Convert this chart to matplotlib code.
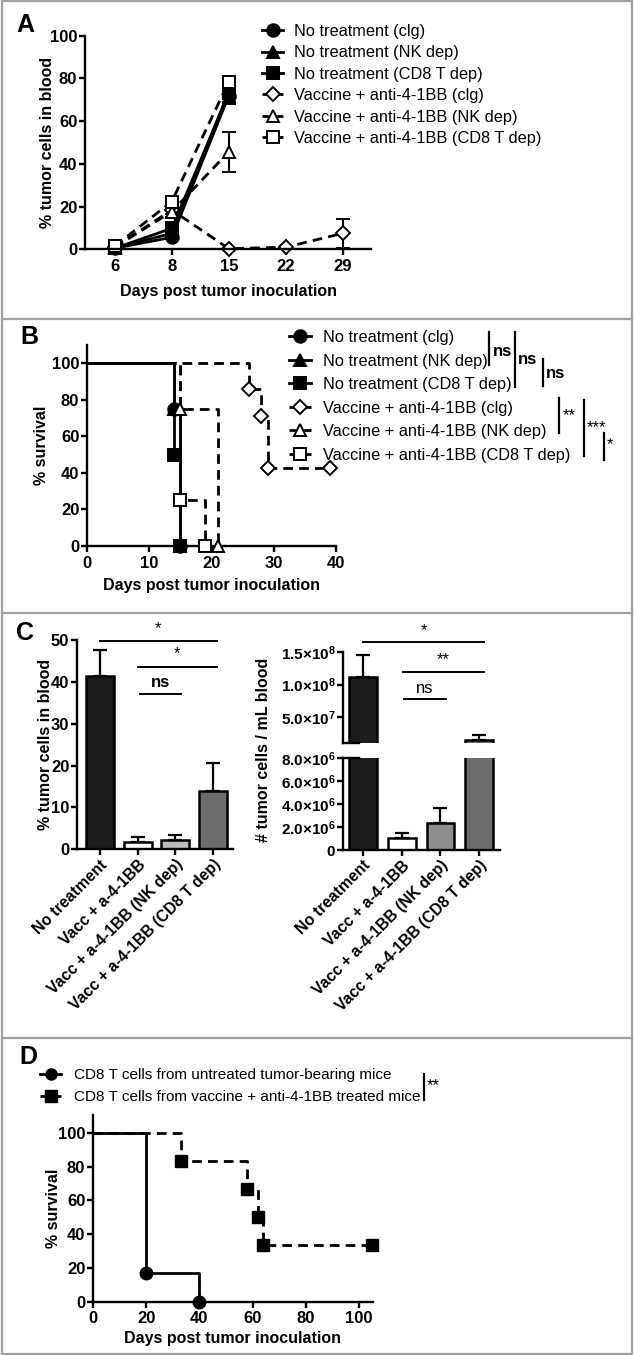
import numpy as np
import matplotlib.pyplot as plt
from matplotlib.lines import Line2D

plt.rcParams['font.family'] = ['Liberation Sans', 'DejaVu Sans']
plt.rcParams['mathtext.fontset'] = 'custom'
plt.rcParams['mathtext.rm'] = 'Liberation Sans'
plt.rcParams['mathtext.bf'] = 'Liberation Sans:bold'

W, H = 634, 1355

# ---- panel A: % tumor cells in blood over time
days_a = ["6", "8", "15", "22", "29"]
a_names = ["No treatment (clg)", "No treatment (NK dep)", "No treatment (CD8 T dep)",
           "Vaccine + anti-4-1BB (clg)", "Vaccine + anti-4-1BB (NK dep)",
           "Vaccine + anti-4-1BB (CD8 T dep)"]
a_nt_clg = [0.5, 5.6, 72.0]
a_nt_clg_err = [0.2, 1.0, 3.0]
a_nt_nk = [0.5, 7.5, 74.0]
a_nt_nk_err = [0.2, 1.2, 3.0]
a_nt_cd8 = [0.5, 9.8, 73.0]
a_nt_cd8_err = [0.2, 1.5, 5.0]
a_vac_clg = [1.0, 18.4, 0.3, 1.0, 7.5]
a_vac_clg_err = [0.5, 2.0, 0.3, 0.5, 6.8]
a_vac_nk = [1.0, 17.6, 45.7]
a_vac_nk_err = [0.5, 2.5, 9.3]
a_vac_cd8 = [1.5, 22.3, 78.5]
a_vac_cd8_err = [0.5, 2.5, 2.0]

# ---- panel B: survival
b_nt_clg_t = [0, 14, 15]
b_nt_clg_s = [100, 75, 0]
b_nt_nk_t = [0, 14, 15]
b_nt_nk_s = [100, 75, 0]
b_nt_cd8_t = [0, 14, 15]
b_nt_cd8_s = [100, 50, 0]
b_vac_clg_t = [0, 26, 28, 29, 39]
b_vac_clg_s = [100, 85.7, 71.4, 42.9, 42.9]
b_vac_nk_t = [0, 15, 21]
b_vac_nk_s = [100, 75, 0]
b_vac_cd8_t = [0, 15, 19]
b_vac_cd8_s = [100, 25, 0]

# ---- panel C
c_groups = ["No treatment", "Vacc + a-4-1BB", "Vacc + a-4-1BB (NK dep)",
            "Vacc + a-4-1BB (CD8 T dep)"]
c_pct = [41.4, 1.8, 2.2, 13.9]
c_pct_err = [6.2, 1.1, 1.2, 6.6]
c_num = [1.12e8, 1.02e6, 2.37e6, 1.45e7]
c_num_err = [0.33e8, 0.43e6, 1.31e6, 0.75e7]
c_left_colors = ['#1c1c1c', 'white', '#bcbcbc', '#6c6c6c']
c_right_colors = ['#1c1c1c', 'white', '#8e8e8e', '#6c6c6c']

# ---- panel D
d_untr_t = [0, 20, 40]
d_untr_s = [100, 16.7, 0]
d_trt_t = [0, 33, 58, 62, 64, 105]
d_trt_s = [100, 83.3, 66.7, 50, 33.3, 33.3]

fig = plt.figure(figsize=(W / 100, H / 100), dpi=100)


def px_axes(l, t, r, b):
    return fig.add_axes([l / W, 1 - b / H, (r - l) / W, (b - t) / H])


def style(ax, size=12, xpad=1.5):
    for s in ['top', 'right']:
        ax.spines[s].set_visible(False)
    for s in ['left', 'bottom']:
        ax.spines[s].set_linewidth(1.7)
    ax.tick_params(width=1.7, length=4, labelsize=size, pad=1.5)
    ax.tick_params(axis='x', pad=xpad)
    for lab in ax.get_xticklabels() + ax.get_yticklabels():
        lab.set_fontweight('bold')


bold = dict(fontweight='bold')
DASH = (3.5, 2.2)

# ================= A
axA = px_axes(85, 35.7, 371, 249.3)
xa = np.arange(len(days_a))
series_a = [
    (a_nt_clg, a_nt_clg_err, 'o', '-', 'black'),
    (a_nt_nk, a_nt_nk_err, '^', '-', 'black'),
    (a_nt_cd8, a_nt_cd8_err, 's', '-', 'black'),
    (a_vac_clg, a_vac_clg_err, 'D', '--', 'white'),
    (a_vac_nk, a_vac_nk_err, '^', '--', 'white'),
    (a_vac_cd8, a_vac_cd8_err, 's', '--', 'white'),
]
handles_a = []
for (vals, err, m, ls, fc), name in zip(series_a, a_names):
    n = len(vals)
    ms = 7 if m == 'D' else 9
    axA.errorbar(xa[:n], vals, yerr=err, color='black', ls=ls, lw=2,
                 marker=m, ms=ms, mfc=fc, mec='black', mew=1.4,
                 capsize=5, elinewidth=1.5, capthick=1.5, clip_on=False,
                 dashes=DASH if ls == '--' else (None, None))
    handles_a.append(Line2D([], [], color='black', ls=ls, lw=2, marker=m,
                            ms=ms, mfc=fc, mec='black', mew=1.4, label=name))
axA.set_xlim(-0.52, 4.49)
axA.set_ylim(0, 100)
axA.set_xticks(xa)
axA.set_xticklabels(days_a)
axA.set_yticks([0, 20, 40, 60, 80, 100])
axA.set_xlabel("Days post tumor inoculation", fontsize=11.5, labelpad=7, **bold)
axA.set_ylabel("% tumor cells in blood", fontsize=11.5, labelpad=-4, **bold)
style(axA, xpad=3)
fig.legend(handles=handles_a, loc='upper left',
           bbox_to_anchor=(262 / W, 1 - 24 / H), frameon=False,
           fontsize=11.8, handlelength=1.3, handletextpad=0.68,
           labelspacing=0.39, borderpad=0, borderaxespad=0)

# ================= B
axB = px_axes(87, 345, 336, 546)
series_b = [
    (b_nt_clg_t, b_nt_clg_s, 'o', '-', 'black'),
    (b_nt_nk_t, b_nt_nk_s, '^', '-', 'black'),
    (b_nt_cd8_t, b_nt_cd8_s, 's', '-', 'black'),
    (b_vac_clg_t, b_vac_clg_s, 'D', '--', 'white'),
    (b_vac_nk_t, b_vac_nk_s, '^', '--', 'white'),
    (b_vac_cd8_t, b_vac_cd8_s, 's', '--', 'white'),
]
handles_b = []
for (t, s, m, ls, fc), name in zip(series_b, a_names):
    ms = 7 if m == 'D' else 9
    axB.step(t, s, where='post', color='black', ls=ls, lw=2, clip_on=False,
             dashes=DASH if ls == '--' else (None, None))
    axB.plot(t[1:], s[1:], ls='none', marker=m, ms=ms, mfc=fc, mec='black',
             mew=1.4, clip_on=False, zorder=4)
    handles_b.append(Line2D([], [], color='black', ls=ls, lw=2, marker=m,
                            ms=ms, mfc=fc, mec='black', mew=1.4, label=name))
axB.set_xlim(0, 40)
axB.set_ylim(0, 110)
axB.set_xticks([0, 10, 20, 30, 40])
axB.set_yticks([0, 20, 40, 60, 80, 100])
axB.set_xlabel("Days post tumor inoculation", fontsize=11.5, labelpad=5, **bold)
axB.set_ylabel("% survival", fontsize=11.5, labelpad=2, **bold)
style(axB, xpad=3)
fig.legend(handles=handles_b, loc='upper left',
           bbox_to_anchor=(289 / W, 1 - 330 / H), frameon=False,
           fontsize=11.8, handlelength=1.35, handletextpad=0.7,
           labelspacing=0.52, borderpad=0, borderaxespad=0)

# ================= C left
axC1 = px_axes(77, 640, 233, 849.3)
xc = np.arange(len(c_groups))
axC1.bar(xc, c_pct, width=0.74, color=c_left_colors, edgecolor='black', lw=1.8)
axC1.errorbar(xc, c_pct, yerr=[np.zeros(4), c_pct_err], fmt='none',
              ecolor='black', elinewidth=1.6, capsize=5, capthick=1.6)
axC1.set_xlim(-0.61, 3.53)
axC1.set_ylim(0, 50)
axC1.set_yticks([0, 10, 20, 30, 40, 50])
axC1.set_xticks(xc)
axC1.set_xticklabels(c_groups, rotation=45, ha='right', va='top',
                     rotation_mode='anchor')
axC1.set_ylabel("% tumor cells in blood", fontsize=11.5, labelpad=-1.5, **bold)
style(axC1)
for lab in axC1.get_xticklabels():
    lab.set_fontsize(11.3)
for x0, x1, y, txt, ty in [(0, 3.1, 49.8, '*', 51.0), (1.0, 3.1, 43.5, '*', 45.0),
                            (1.05, 2.15, 37.1, 'ns', 38.0)]:
    axC1.plot([x0, x1], [y, y], color='black', lw=1.4, clip_on=False)
    axC1.text((x0 + x1) / 2, ty, txt, ha='center', va='bottom', fontsize=12,
              fontweight='bold' if txt == 'ns' else 'normal')

# ================= C right (broken axis)
axU = px_axes(343, 652, 500, 743)
axL = px_axes(343, 758, 500, 850)
for ax in (axU, axL):
    ax.bar(xc, c_num, width=0.72, color=c_right_colors, edgecolor='black', lw=1.8)
    ax.errorbar(xc, c_num, yerr=[np.zeros(4), c_num_err], fmt='none',
                ecolor='black', elinewidth=1.6, capsize=5, capthick=1.6)
    ax.set_xlim(-0.52, 3.54)
axU.set_ylim(1e7, 1.5e8)
axL.set_ylim(0, 8e6)
axU.set_yticks([5e7, 1e8, 1.5e8])
axU.set_yticklabels([r'$\mathbf{5.0{\times}10^{7}}$', r'$\mathbf{1.0{\times}10^{8}}$',
                     r'$\mathbf{1.5{\times}10^{8}}$'])
axL.set_yticks([0, 2e6, 4e6, 6e6, 8e6])
axL.set_yticklabels(['0', r'$\mathbf{2.0{\times}10^{6}}$', r'$\mathbf{4.0{\times}10^{6}}$',
                     r'$\mathbf{6.0{\times}10^{6}}$', r'$\mathbf{8.0{\times}10^{6}}$'])
axU.set_xticks([])
style(axU, 11)
style(axL, 11)
axU.spines['bottom'].set_visible(False)
axL.set_xticks(xc)
axL.set_xticklabels(c_groups, rotation=45, ha='right', va='top',
                    rotation_mode='anchor')
for lab in axL.get_xticklabels():
    lab.set_fontsize(11.3)
    lab.set_fontweight('bold')
# break caps
axU.plot([0, 0.1], [0, 0], transform=axU.transAxes, color='black', lw=1.7, clip_on=False)
axL.plot([0, 0.1], [1, 1], transform=axL.transAxes, color='black', lw=1.7, clip_on=False)
fig.text(263 / W, 1 - 750 / H, "# tumor cells / mL blood", rotation=90,
         ha='center', va='center', fontsize=11.5, **bold)
for x0, x1, y, txt, ty in [(0, 3.13, 1.65e8, '*', 1.72e8), (1.03, 3.13, 1.2e8, '**', 1.26e8),
                            (1.05, 2.15, 7.7e7, 'ns', 8.2e7)]:
    axU.plot([x0, x1], [y, y], color='black', lw=1.4, clip_on=False)
    axU.text((x0 + x1) / 2, ty, txt, ha='center', va='bottom', fontsize=12)

# ================= D
axD = px_axes(93, 1115, 373, 1301.7)
axD.step(d_untr_t, d_untr_s, where='post', color='black', lw=2, clip_on=False)
axD.plot(d_untr_t[1:], d_untr_s[1:], ls='none', marker='o', ms=9, color='black',
         clip_on=False, zorder=4)
axD.step(d_trt_t, d_trt_s, where='post', color='black', ls='--', lw=2,
         dashes=DASH, clip_on=False)
axD.plot(d_trt_t[1:], d_trt_s[1:], ls='none', marker='s', ms=9, color='black',
         clip_on=False, zorder=4)
axD.set_xlim(0, 105.3)
axD.set_ylim(0, 110.5)
axD.set_xticks([0, 20, 40, 60, 80, 100])
axD.set_yticks([0, 20, 40, 60, 80, 100])
axD.set_xlabel("Days post tumor inoculation", fontsize=11.5, labelpad=4, **bold)
axD.set_ylabel("% survival", fontsize=11.5, labelpad=-2, **bold)
style(axD, xpad=2.5)
handles_d = [Line2D([], [], color='black', lw=2, marker='o', ms=8,
                    label="CD8 T cells from untreated tumor-bearing mice"),
             Line2D([], [], color='black', lw=2, ls='--', dashes=DASH, marker='s', ms=8,
                    label="CD8 T cells from vaccine + anti-4-1BB treated mice")]
fig.legend(handles=handles_d, loc='upper left',
           bbox_to_anchor=(40 / W, 1 - 1068 / H), frameon=False,
           fontsize=11, handlelength=1.4, handletextpad=0.8,
           labelspacing=0.55, borderpad=0, borderaxespad=0)

# ================= overlay: frames, panel letters, brackets
ov = fig.add_axes([0, 0, 1, 1])
ov.set_xlim(0, W)
ov.set_ylim(H, 0)
ov.axis('off')
gray = '#a0a0a0'
ov.plot([2, 632, 632, 2, 2], [1, 1, 1354, 1354, 1], color=gray, lw=1.6)
for yy in [319, 613, 1038]:
    ov.plot([2, 632], [yy, yy], color=gray, lw=1.6)
for letter, x, y in [('A', 16, 25), ('B', 20, 337), ('C', 16, 633), ('D', 19, 1057)]:
    ov.text(x, y, letter, fontsize=18, fontweight='bold', va='center', ha='left')

brackets = [(489, 332, 365, 'ns', 493, 351, True), (515, 332, 387, 'ns', 518, 360, True),
            (543, 359, 386, 'ns', 546, 373, True), (559, 398, 433, '**', 563, 416, False),
            (584, 400, 456, '***', 587, 428, False), (604, 433, 460, '*', 607, 445, False),
            (424, 1074, 1100, '**', 427, 1086, False)]
for x, y0, y1, txt, tx, ty, b in brackets:
    ov.plot([x, x], [y0, y1], color='black', lw=1.6)
    ov.text(tx, ty, txt, fontsize=12, va='center', ha='left',
            fontweight='bold' if b else 'normal')

fig.savefig('out.png', dpi=100)
